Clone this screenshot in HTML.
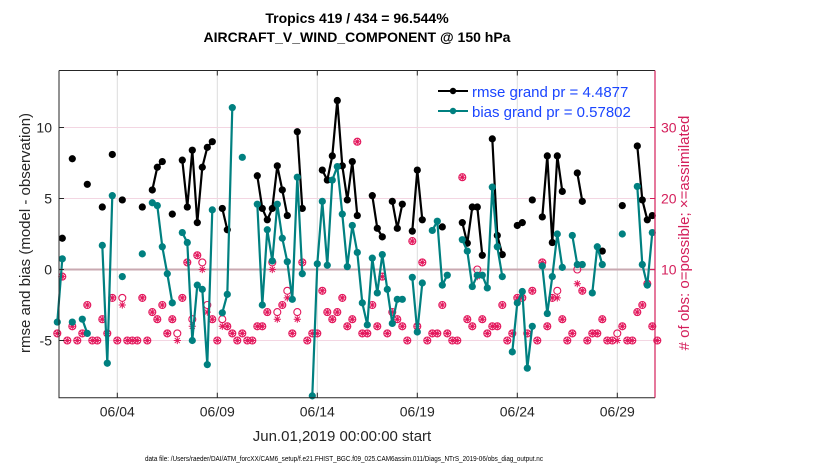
<!DOCTYPE html>
<html><head><meta charset="utf-8"><style>
html,body{margin:0;padding:0;background:#fff;}
svg{display:block;font-family:"Liberation Sans",Arial,sans-serif;}
</style></head><body>
<svg id="chart" width="830" height="470" viewBox="0 0 830 470" xmlns="http://www.w3.org/2000/svg">
<rect width="830" height="470" fill="#fff"/>
<text x="357" y="23" text-anchor="middle" font-size="14" font-weight="bold" fill="#000">Tropics 419 / 434 = 96.544%</text>
<text x="357" y="42" text-anchor="middle" font-size="14" font-weight="bold" fill="#000">AIRCRAFT_V_WIND_COMPONENT @ 150 hPa</text>
<g id="grid"></g>
<g id="marks"></g>
<g id="axes"></g>
<g>
 <line x1="438" y1="91" x2="468" y2="91" stroke="#000" stroke-width="2"/>
 <circle cx="453" cy="91" r="3.2" fill="#000"/>
 <line x1="438" y1="111" x2="468" y2="111" stroke="#008080" stroke-width="2"/>
 <circle cx="453" cy="111" r="3.2" fill="#008080"/>
 <text x="472" y="97" font-size="15" fill="#1a45ff">rmse grand pr = 4.4877</text>
 <text x="472" y="117" font-size="15" fill="#1a45ff">bias grand pr = 0.57802</text>
</g>
<text transform="translate(30,233) rotate(-90)" text-anchor="middle" font-size="15" fill="#262626">rmse and bias (model - observation)</text>
<text transform="translate(689,233) rotate(-90)" text-anchor="middle" font-size="15" fill="#d41f5b"># of obs: o=possible; ×=assimilated</text>
<text x="342" y="441" text-anchor="middle" font-size="15" fill="#262626">Jun.01,2019 00:00:00 start</text>
<text x="344" y="461" text-anchor="middle" font-size="7" textLength="398" lengthAdjust="spacingAndGlyphs" fill="#000">data file: /Users/raeder/DAI/ATM_forcXX/CAM6_setup/f.e21.FHIST_BGC.f09_025.CAM6assim.011/Diags_NTrS_2019-06/obs_diag_output.nc</text>
</svg>
<script>
// 6-hourly bin index (0 = Jun 01 00Z)
const rmseBins = [1,3,6,9,11,13,17,19,20,21,23,25,26,27,28,29,30,31,33,34,40,41,42,43,44,45,46,48,49,53,54,55,56,57,58,59,60,63,64,65,67,68,69,71,72,73,77,81,82,83,84,85,87,88,89,92,93,95,97,98,99,100,101,104,105,109,113,116,117,118,119];
const rmseVals = [2.2,7.8,6.0,4.4,8.1,4.9,4.4,5.6,7.2,7.6,3.9,7.7,4.4,8.4,3.3,7.2,8.6,9.0,4.3,2.8,6.6,4.3,3.5,4.3,7.3,5.6,3.8,9.7,4.3,7.0,6.3,8.0,11.9,7.3,4.9,7.6,3.8,5.2,2.9,2.3,4.8,2.9,4.6,2.7,7.0,3.5,3.0,3.3,1.85,4.4,4.4,1.0,9.2,2.4,1.05,3.1,3.3,4.9,3.7,8.0,1.9,8.0,5.5,6.8,4.8,1.3,4.5,8.7,4.9,3.5,3.8];
const biasBins = [0,1,3,5,6,9,10,11,13,17,19,20,21,22,23,25,26,27,28,29,30,31,33,34,35,37,40,41,42,43,44,45,46,47,48,49,51,52,53,54,55,56,57,58,59,60,61,62,63,64,65,66,67,68,69,71,72,73,75,76,77,78,81,82,83,84,85,86,87,88,89,91,92,93,94,95,97,98,99,100,101,103,104,105,107,108,109,113,116,117,118,119];
const biasVals = [-3.7,0.75,-3.7,-3.5,-4.5,1.7,-6.6,5.2,-0.5,1.1,4.7,4.5,1.6,-0.3,-2.35,2.6,1.9,-5.0,-1.1,-1.4,-6.7,4.2,-3.05,-1.75,11.4,7.9,4.6,-2.5,2.8,0.6,4.6,2.2,0.55,-2.1,6.5,-0.3,-8.9,0.4,4.8,0.3,6.3,7.25,3.9,0.2,3.1,1.2,-2.35,-3.9,0.8,-1.65,1.05,-1.4,-3.8,-2.1,-2.1,-0.55,-4.4,-0.95,2.75,3.4,-1.1,-0.4,2.1,1.3,-1.2,-0.4,-0.4,-1.3,5.8,1.6,-0.5,-5.8,-2.35,-1.55,-6.95,-4.0,0.25,-3.1,-0.5,2.5,0.15,2.4,0.35,0.35,-1.65,1.6,0.35,2.5,5.85,0.35,-1.1,2.6];
const obsBins = [0,1,2,3,4,5,6,7,8,9,10,11,12,13,14,15,16,17,18,19,20,21,22,23,24,25,26,27,28,29,30,31,32,33,34,35,36,37,38,39,40,41,42,43,44,45,46,47,48,49,50,51,52,53,54,55,56,57,58,59,60,61,62,63,64,65,66,67,68,69,70,71,72,73,74,75,76,77,78,79,80,81,82,83,84,85,86,87,88,89,90,91,92,93,94,95,96,97,98,99,100,101,102,103,104,105,106,107,108,109,110,111,112,113,114,115,116,117,118,119,120];
const obsPossible = [1,9,0,2,0,1,5,0,0,3,1,6,0,6,0,0,0,6,0,4,3,5,1,3,1,6,11,3,12,11,5,3,0,3,2,1,0,1,0,0,2,2,4,11,4,5,7,1,4,11,0,1,1,7,4,3,4,6,2,3,28,1,1,5,2,9,1,4,3,2,0,14,2,11,0,1,1,5,1,0,0,23,3,2,10,3,1,2,2,5,0,1,6,6,1,7,0,11,2,6,7,3,0,1,10,7,0,1,1,3,0,0,1,2,0,0,4,5,8,2,0];
const obsAssim = [1,9,0,2,0,1,5,0,0,3,1,6,0,5,0,0,0,6,0,4,3,5,1,3,0,6,11,2,12,10,4,3,0,2,2,1,0,1,0,0,2,2,4,10,3,5,6,1,3,11,0,1,1,7,4,3,4,6,2,3,28,1,1,5,2,9,1,4,3,2,0,14,2,11,0,1,1,5,1,0,0,23,3,2,9,3,1,2,2,5,0,1,6,6,1,7,0,11,2,6,6,3,0,1,8,7,0,1,1,3,0,0,0,2,0,0,4,5,8,2,0];
const xTickDays = [3,8,13,18,23,28];
const xTickLabels = ["06/04","06/09","06/14","06/19","06/24","06/29"];
const yTicks = [-5,0,5,10];
const rTicks = [10,20,30];

const NS="http://www.w3.org/2000/svg";
const L=59,R=655,T=70.5,B=397.7;
function xDay(d){return 57.3+20*d;}
function xBin(b){return xDay(b*0.25);}
function yL(v){return 269.5-14.2*v;}
function yR(n){return yL((n-10)/2);}
function mk(tag,attrs,parent){const e=document.createElementNS(NS,tag);for(const k in attrs)e.setAttribute(k,attrs[k]);parent.appendChild(e);return e;}
const grid=document.getElementById('grid'),marks=document.getElementById('marks'),axes=document.getElementById('axes');

// grid
xTickDays.forEach((d,i)=>{
  const g=mk('line',{x1:xDay(d),x2:xDay(d),y1:T,y2:B,stroke:'#dcdcdc','stroke-width':1},grid);
  
  
});
[0,10,20,30].forEach(n=>{
  const g=mk('line',{x1:L,x2:R,y1:yR(n),y2:yR(n),stroke:'#f3d6e2','stroke-width':1},grid);
  
  
});
const zl=mk('line',{x1:L,x2:R,y1:yL(0),y2:yL(0),stroke:'#c9a9b1','stroke-width':2},grid);



// obs markers
function star(cx,cy,parent){
  const r=3.6,d=r*0.707;
  const p=mk('path',{d:`M${cx} ${cy-r}V${cy+r}M${cx-r} ${cy}H${cx+r}M${cx-d} ${cy-d}L${cx+d} ${cy+d}M${cx-d} ${cy+d}L${cx+d} ${cy-d}`,stroke:'#e3175c','stroke-width':1,fill:'none'},parent);
  return p;
}
obsBins.forEach((b,i)=>{
  const cx=xBin(b);
  const c=mk('circle',{cx:cx,cy:yR(obsPossible[i]),r:3.5,fill:'none',stroke:'#e3175c','stroke-width':1.1},marks);
  
  
  const s=star(cx,yR(obsAssim[i]),marks);
  
  
});

function drawSeries(bins,vals,color,name){
  let seg=[];
  const segs=[];
  bins.forEach((b,i)=>{
    if(seg.length && b-bins[i-1]>1.5){segs.push(seg);seg=[];}
    seg.push([xBin(b),yL(vals[i])]);
  });
  if(seg.length)segs.push(seg);
  segs.forEach(s=>{
    if(s.length>1){
      const pl=mk('polyline',{points:s.map(p=>p.join(',')).join(' '),fill:'none',stroke:color,'stroke-width':2.2,'stroke-linejoin':'round'},marks);
      
      
    }
  });
  bins.forEach((b,i)=>{
    const c=mk('circle',{cx:xBin(b),cy:yL(vals[i]),r:3.6,fill:color},marks);
    
    
  });
}
drawSeries(rmseBins,rmseVals,'#000','rmse');
drawSeries(biasBins,biasVals,'#008080','bias');

// axes
const ax1=mk('path',{d:`M${L} ${T}V${B}H${R}M${L} ${T}H${R}`,stroke:'#262626','stroke-width':1,fill:'none'},axes);


const ax2=mk('line',{x1:R,x2:R,y1:T,y2:B,stroke:'#d41f5b','stroke-width':1.2},axes);


xTickDays.forEach((d,i)=>{
  const x=xDay(d);
  mk('line',{x1:x,x2:x,y1:B,y2:B-5,stroke:'#262626'},axes);
  mk('line',{x1:x,x2:x,y1:T,y2:T+5,stroke:'#262626'},axes);
  const t=mk('text',{x:x,y:B+19,'text-anchor':'middle','font-size':14,fill:'#262626'},axes);
  t.textContent=xTickLabels[i];
  
  
});
yTicks.forEach(v=>{
  const y=yL(v);
  mk('line',{x1:L,x2:L+5,y1:y,y2:y,stroke:'#262626'},axes);
  const t=mk('text',{x:L-7,y:y+5,'text-anchor':'end','font-size':14,fill:'#262626'},axes);
  t.textContent=v;
  
  
});
rTicks.forEach(n=>{
  const y=yR(n);
  mk('line',{x1:R-5,x2:R,y1:y,y2:y,stroke:'#d41f5b'},axes);
  const t=mk('text',{x:R+6,y:y+5,'font-size':14,fill:'#d41f5b'},axes);
  t.textContent=n;
  
  
});
</script>
</body></html>
